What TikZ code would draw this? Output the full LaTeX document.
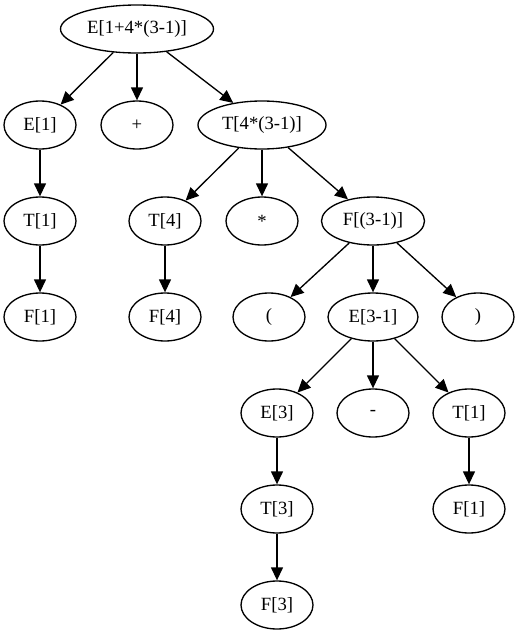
\documentclass[tikz,border=0pt]{standalone}
\usepackage{fontspec}
\setmainfont{Liberation Serif}
\usetikzlibrary{arrows.meta,shapes.geometric,positioning}

\begin{document}
\begin{tikzpicture}[
  every node/.style={font=\fontsize{18.67}{22}\selectfont},
  tok/.style={ellipse, draw, line width=1.33pt, minimum width=72pt,
              minimum height=48pt, inner sep=2pt},
  arr/.style={-{Triangle[length=13pt,width=12pt]}, line width=1.33pt},
  on grid,
  node distance=96pt,
]
\useasboundingbox (0,0) rectangle (520pt,-635pt);

\node[tok, minimum width=153pt] (root) at (137pt,-29pt) {E[1+4*(3-1)]};

\node[tok, below left=96pt and 97pt of root] (E1) {E[1]};
\node[tok, below=of root] (plus) {+};
\node[tok, minimum width=128pt, below right=96pt and 125pt of root] (T4a) {T[4*(3-1)]};

\node[tok, below=of E1] (T1a) {T[1]};
\node[tok, below left=96pt and 97pt of T4a] (T4) {T[4]};
\node[tok, below=of T4a] (star) {*};
\node[tok, minimum width=103pt, below right=96pt and 111pt of T4a] (Fpar) {F[(3-1)]};

\node[tok, below=of T1a] (F1a) {F[1]};
\node[tok, below=of T4] (F4) {F[4]};
\node[tok, below left=96pt and 104pt of Fpar] (lpar) {(};
\node[tok, minimum width=90pt, below=of Fpar] (E31) {E[3-1]};
\node[tok, below right=96pt and 105pt of Fpar] (rpar) {)};

\node[tok, below left=96pt and 96pt of E31] (E3) {E[3]};
\node[tok, below=of E31] (minus) {-};
\node[tok, below right=96pt and 96pt of E31] (T1b) {T[1]};

\node[tok, below=of E3] (T3) {T[3]};
\node[tok, below=of T1b] (F1b) {F[1]};
\node[tok, below=of T3] (F3) {F[3]};

\draw[arr] (root) -- (E1);
\draw[arr] (root) -- (plus);
\draw[arr] (root) -- (T4a);
\draw[arr] (E1) -- (T1a);
\draw[arr] (T1a) -- (F1a);
\draw[arr] (T4a) -- (T4);
\draw[arr] (T4a) -- (star);
\draw[arr] (T4a) -- (Fpar);
\draw[arr] (T4) -- (F4);
\draw[arr] (Fpar) -- (lpar);
\draw[arr] (Fpar) -- (E31);
\draw[arr] (Fpar) -- (rpar);
\draw[arr] (E31) -- (E3);
\draw[arr] (E31) -- (minus);
\draw[arr] (E31) -- (T1b);
\draw[arr] (E3) -- (T3);
\draw[arr] (T3) -- (F3);
\draw[arr] (T1b) -- (F1b);

\end{tikzpicture}
\end{document}
